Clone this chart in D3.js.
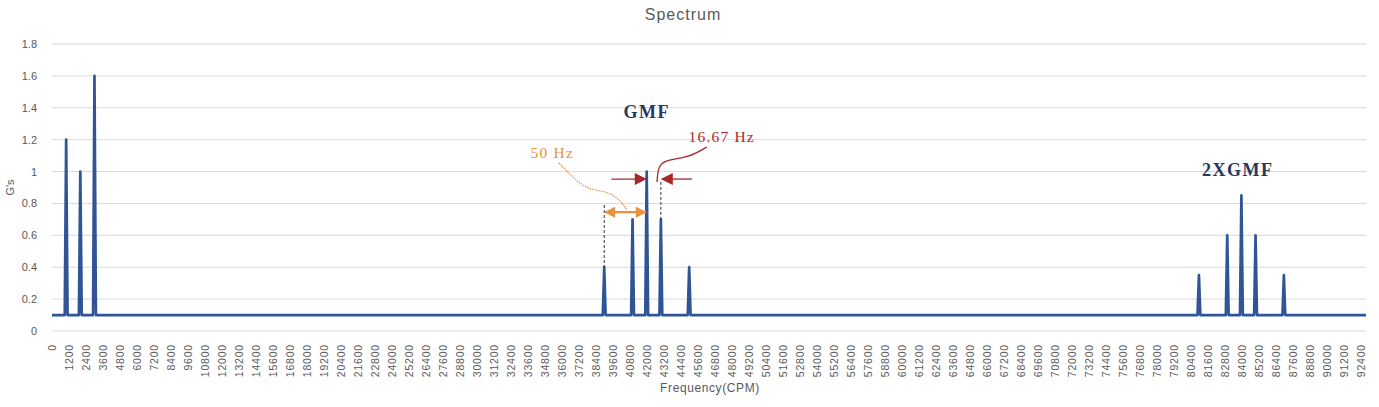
<!DOCTYPE html>
<html>
<head>
<meta charset="utf-8">
<script src="https://cdn.jsdelivr.net/npm/d3@7"></script>
<style>
  body { margin: 0; background: #fff; }
  svg { display: block; }
</style>
</head>
<body>
<svg width="1379" height="407"></svg>
<script>
// spectrum peaks (CPM) and their amplitudes (G's)
const peakFreqs = [1000, 2000, 3000, 39000, 41000, 42000, 43000, 45000, 81000, 83000, 84000, 85000, 87000];
const peakAmps = [1.2, 1.0, 1.6, 0.4, 0.7, 1.0, 0.7, 0.4, 0.35, 0.6, 0.85, 0.6, 0.35];
const noiseFloor = 0.1;
const freqStep = 100; // spectrum resolution
const maxFreq = 92800;

const xTicks = d3.range(0, 92401, 1200);
const yTicks = [0, 0.2, 0.4, 0.6, 0.8, 1, 1.2, 1.4, 1.6, 1.8];

const svg = d3.select("svg");

const x = d3.scaleLinear().domain([0, maxFreq]).range([52, 1366]);
const y = d3.scaleLinear().domain([0, 1.8]).range([331, 44]);

// build the line: floor, then up/down at every peak
const spectrum = [[0, noiseFloor]];
peakFreqs.forEach((f, i) => {
  spectrum.push([f - freqStep, noiseFloor], [f, peakAmps[i]], [f + freqStep, noiseFloor]);
});
spectrum.push([maxFreq, noiseFloor]);

// title
svg.append("text")
  .attr("x", 683)
  .attr("y", 20)
  .attr("text-anchor", "middle")
  .attr("font-family", "Liberation Sans, Arial, sans-serif")
  .attr("font-size", "16px")
  .attr("letter-spacing", "1px")
  .attr("fill", "#595959")
  .text("Spectrum");

// grid
svg.append("g")
  .selectAll("line")
  .data(yTicks)
  .join("line")
  .attr("x1", x(0))
  .attr("x2", x(maxFreq))
  .attr("y1", d => y(d))
  .attr("y2", d => y(d))
  .attr("stroke", "#d9d9d9")
  .attr("stroke-width", 1);

// y axis labels
const yAxis = svg.append("g")
  .attr("transform", `translate(${x(0) - 12},0)`)
  .call(d3.axisLeft(y).tickValues(yTicks).tickSize(0).tickFormat(d3.format("~g")));
yAxis.select(".domain").remove();
yAxis.selectAll("text")
  .attr("font-family", "Liberation Sans, Arial, sans-serif")
  .attr("font-size", "11px")
  .attr("fill", "#595959");

svg.append("text")
  .attr("transform", `translate(14,${(y(0) + y(1.8)) / 2}) rotate(-90)`)
  .attr("text-anchor", "middle")
  .attr("font-family", "Liberation Sans, Arial, sans-serif")
  .attr("font-size", "11px")
  .attr("fill", "#595959")
  .text("G's");

// x axis labels
const xAxis = svg.append("g")
  .attr("transform", `translate(0,${y(0) + 10})`)
  .call(d3.axisBottom(x).tickValues(xTicks).tickSize(0).tickFormat(d => d));
xAxis.select(".domain").remove();
xAxis.selectAll("text")
  .attr("transform", "rotate(-90)")
  .attr("text-anchor", "end")
  .attr("x", -3)
  .attr("y", 0)
  .attr("dy", "0.35em")
  .attr("font-family", "Liberation Sans, Arial, sans-serif")
  .attr("font-size", "10.5px")
  .attr("letter-spacing", "0.8px")
  .attr("fill", "#595959");

svg.append("text")
  .attr("x", 710)
  .attr("y", 392)
  .attr("text-anchor", "middle")
  .attr("font-family", "Liberation Sans, Arial, sans-serif")
  .attr("font-size", "12px")
  .attr("letter-spacing", "0.6px")
  .attr("fill", "#595959")
  .text("Frequency(CPM)");

// spectrum line
svg.append("path")
  .datum(spectrum)
  .attr("fill", "none")
  .attr("stroke", "#2F5597")
  .attr("stroke-width", 2.7)
  .attr("stroke-linejoin", "round")
  .attr("d", d3.line().x(d => x(d[0])).y(d => y(d[1])));

// annotations
const defs = svg.append("defs");
function arrowHead(id, color, w, h) {
  defs.append("marker")
    .attr("id", id)
    .attr("viewBox", "0 0 10 10")
    .attr("refX", 9)
    .attr("refY", 5)
    .attr("markerWidth", w)
    .attr("markerHeight", h)
    .attr("markerUnits", "userSpaceOnUse")
    .attr("orient", "auto-start-reverse")
    .append("path")
    .attr("d", "M0,0L10,5L0,10Z")
    .attr("fill", color);
}
const orange = "#E8913F";
const red = "#A8282A";
arrowHead("arrOrange", orange, 13, 11);
arrowHead("arrRed", red, 13, 12);

// dashed drop lines
svg.append("g")
  .selectAll("line")
  .data([[39000, 0.79, 0.4], [43000, 0.935, 0.7]])
  .join("line")
  .attr("x1", d => x(d[0]))
  .attr("x2", d => x(d[0]))
  .attr("y1", d => y(d[1]))
  .attr("y2", d => y(d[2]))
  .attr("stroke", "#333")
  .attr("stroke-width", 1)
  .attr("stroke-dasharray", "3,2");

// 50 Hz double arrow
svg.append("line")
  .attr("x1", x(39000) + 1)
  .attr("x2", x(42000) - 1)
  .attr("y1", y(0.745))
  .attr("y2", y(0.745))
  .attr("stroke", orange)
  .attr("stroke-width", 2.2)
  .attr("marker-start", "url(#arrOrange)")
  .attr("marker-end", "url(#arrOrange)");

// 16.67 Hz arrows
svg.append("g")
  .selectAll("line")
  .data([[39500, 42000 - 80], [45200, 43000 + 80]])
  .join("line")
  .attr("x1", d => x(d[0]))
  .attr("x2", d => x(d[1]))
  .attr("y1", y(0.953))
  .attr("y2", y(0.953))
  .attr("stroke", red)
  .attr("stroke-width", 1.3)
  .attr("marker-end", "url(#arrRed)");

const curve = d3.line().x(d => x(d[0])).y(d => y(d[1])).curve(d3.curveBasis);

svg.append("path")
  .datum([[35800, 1.054], [36800, 0.96], [37900, 0.885], [39100, 0.878], [40000, 0.834], [40600, 0.76]])
  .attr("fill", "none")
  .attr("stroke", orange)
  .attr("stroke-width", 1.2)
  .attr("stroke-dasharray", "1.5,1")
  .attr("d", curve);

svg.append("path")
  .datum([[42730, 0.935], [42800, 1.03], [43300, 1.075], [44900, 1.085], [46250, 1.154]])
  .attr("fill", "none")
  .attr("stroke", red)
  .attr("stroke-width", 1.3)
  .attr("d", curve);

// labels
const labels = [
  { text: "GMF", f: 42000, v: 1.336, color: "#1F3864", bold: true },
  { text: "2XGMF", f: 83750, v: 0.972, color: "#1F3864", bold: true },
  { text: "50 Hz", f: 35330, v: 1.085, color: orange, bold: false },
  { text: "16.67 Hz", f: 47300, v: 1.185, color: red, bold: false }
];
svg.append("g")
  .selectAll("text")
  .data(labels)
  .join("text")
  .attr("x", d => x(d.f))
  .attr("y", d => y(d.v))
  .attr("text-anchor", "middle")
  .attr("font-family", "Liberation Serif, Times New Roman, serif")
  .attr("font-weight", d => d.bold ? "bold" : "normal")
  .attr("font-size", d => d.bold ? "18px" : "15.5px")
  .attr("letter-spacing", d => d.bold ? "1.5px" : "1.2px")
  .attr("fill", d => d.color)
  .text(d => d.text);
</script>
</body>
</html>
